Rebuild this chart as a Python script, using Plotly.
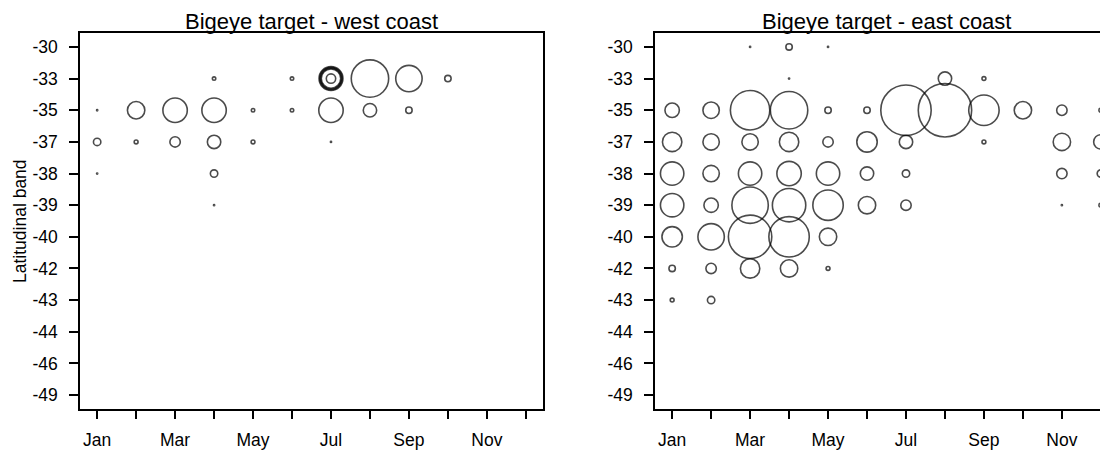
import math
import plotly.graph_objects as go

# ---- data -------------------------------------------------------------
lat_bands = ['-30', '-33', '-35', '-37', '-38', '-39', '-40', '-42', '-43', '-44', '-46', '-49']
month_labels = ['Jan', '', 'Mar', '', 'May', '', 'Jul', '', 'Sep', '', 'Nov', '']

west_month = [4, 6, 7, 7, 7, 7, 7, 8, 9, 10,
              1, 2, 3, 4, 5, 6, 7, 8, 9,
              1, 2, 3, 4, 5, 7,
              1, 4,
              4]
west_lat = ['-33'] * 10 + ['-35'] * 9 + ['-37'] * 6 + ['-38'] * 2 + ['-39']
west_value = [0.83, 0.83, 4.0, 14.58, 16.74, 19.04, 21.5, 50.28, 25.92, 2.12,
              0.21, 11.93, 22.35, 22.35, 0.83, 0.83, 22.35, 7.44, 2.12,
              2.68, 1.0, 4.76, 7.44, 1.0, 0.21,
              0.21, 2.68,
              0.21]

east_month = [3, 4, 5,
              4, 8, 9,
              1, 2, 3, 4, 5, 6, 7, 8, 9, 10, 11, 12,
              1, 2, 3, 4, 5, 6, 7, 9, 11, 12,
              1, 2, 3, 4, 5, 6, 7, 11, 12,
              1, 2, 3, 4, 5, 6, 7, 11, 12,
              1, 2, 3, 4, 5,
              1, 2, 3, 4, 5,
              1, 2]
east_lat = (['-30'] * 3 + ['-33'] * 3 + ['-35'] * 12 + ['-37'] * 10 + ['-38'] * 9
            + ['-39'] * 9 + ['-40'] * 5 + ['-42'] * 5 + ['-43'] * 2)
east_value = [0.21, 2.12, 0.21,
              0.21, 7.44, 1.0,
              8.46, 10.71, 55.57, 50.28, 2.12, 2.12, 89.39, 100.0, 33.85, 11.93, 4.76, 1.0,
              14.58, 10.71, 10.71, 14.58, 4.76, 16.0, 7.44, 1.0, 11.93, 8.46,
              20.66, 10.71, 20.66, 22.35, 20.66, 7.44, 2.68, 4.76, 2.68,
              20.66, 8.46, 47.74, 40.5, 33.85, 11.93, 4.76, 0.21, 1.0,
              16.0, 25.92, 66.94, 58.31, 11.93,
              2.12, 4.76, 14.58, 11.93, 1.0,
              1.0, 2.68]

# ---- styling helpers ----------------------------------------------------
FONT = "Liberation Sans, Arial, sans-serif"
LW = 1.6
MAX_D = 55.0
MAX_V = max(west_value + east_value)


def sizes(vals):
    return [max(MAX_D * math.sqrt(v / MAX_V) - LW, 1.2) for v in vals]


fig = go.Figure()
fig.add_trace(go.Scatter(
    x=west_month, y=[lat_bands.index(l) for l in west_lat], mode='markers',
    marker=dict(size=sizes(west_value), sizemode='diameter', color='rgba(0,0,0,0)',
                line=dict(color='black', width=LW)),
    xaxis='x', yaxis='y', showlegend=False, hoverinfo='skip'))
fig.add_trace(go.Scatter(
    x=east_month, y=[lat_bands.index(l) for l in east_lat], mode='markers',
    marker=dict(size=sizes(east_value), sizemode='diameter', color='rgba(0,0,0,0)',
                line=dict(color='black', width=LW)),
    xaxis='x2', yaxis='y2', showlegend=False, hoverinfo='skip'))

# the page body adds an 8px offset, so the figure is laid out 8px smaller
OFF = 8
W, H = 1108 - OFF, 450 - OFF
ML, MR, MT = 80 - OFF, 0, 33 - OFF
MB = H - (409 - OFF)
pw = W - ML - MR
ph = H - MT - MB

TICKFONT = dict(family=FONT, size=17.5, color='black')
common_x = dict(tickmode='array', tickvals=list(range(1, 13)), ticktext=month_labels,
                ticks='outside', ticklen=8, tickwidth=LW, tickcolor='black',
                showline=True, linecolor='black', linewidth=LW, mirror=True,
                showgrid=False, zeroline=False, ticklabelstandoff=6,
                automargin=False, tickfont=TICKFONT)
common_y = dict(tickmode='array', tickvals=list(range(12)), ticktext=lat_bands,
                range=[11.44, -0.44], ticks='outside', ticklen=9, tickwidth=LW,
                tickcolor='black', showline=True, linecolor='black', linewidth=LW,
                showgrid=False, zeroline=False, ticklabelstandoff=8,
                automargin=False, tickfont=TICKFONT)

west_left, west_right = 80 - OFF, 543 - OFF
east_left = 655 - OFF
month_px = (west_right - west_left) / 11.88

fig.update_layout(
    width=W, height=H, margin=dict(l=ML, r=MR, t=MT, b=MB, autoexpand=False),
    paper_bgcolor='white', plot_bgcolor='white',
    xaxis=dict(domain=[0, (west_right - ML) / pw], range=[0.56, 12.44], anchor='y', **common_x),
    yaxis=dict(domain=[0, 1], anchor='x', mirror=True, **common_y),
    xaxis2=dict(domain=[(east_left - ML) / pw, 1],
                range=[0.56, 0.56 + (W - east_left) / month_px],
                anchor='y2', **common_x),
    yaxis2=dict(domain=[0, 1], anchor='x2', mirror=False, **common_y),
)

title_y = 1 + (MT - (21 - OFF)) / ph
fig.add_annotation(text='Bigeye target - west coast', xref='paper', yref='paper',
                   x=((west_left + west_right) / 2 - ML) / pw, y=title_y,
                   xanchor='center', yanchor='middle', showarrow=False,
                   font=dict(family=FONT, size=22, color='black'))
fig.add_annotation(text='Bigeye target - east coast', xref='paper', yref='paper',
                   x=((east_left + east_left + (west_right - west_left)) / 2 - ML) / pw, y=title_y,
                   xanchor='center', yanchor='middle', showarrow=False,
                   font=dict(family=FONT, size=22, color='black'))
fig.add_annotation(text='Latitudinal band', xref='paper', yref='paper',
                   x=(20 - OFF - ML) / pw, y=0.5, textangle=-90,
                   xanchor='center', yanchor='middle', showarrow=False,
                   font=dict(family=FONT, size=17.5, color='black'))

fig.write_html("out.html")
